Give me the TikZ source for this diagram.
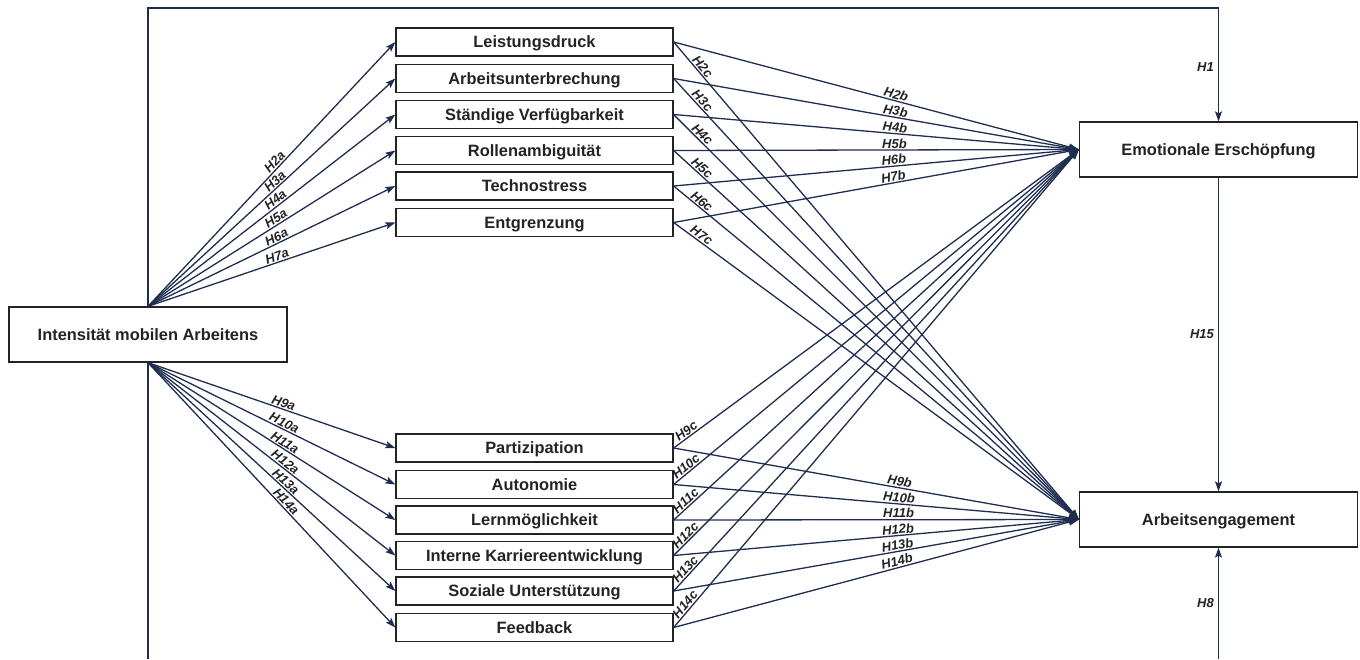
\documentclass[tikz,border=0pt]{standalone}
\usepackage{fontspec}
\setmainfont{Liberation Sans}
\usepackage{tikz}
\usetikzlibrary{arrows.meta}
\definecolor{pathblue}{RGB}{31,45,80}
\definecolor{boxgray}{RGB}{35,35,35}
\tikzset{
    varnode/.style={draw=boxgray,line width=1.3pt,fill=white,text=boxgray,inner sep=0pt,align=center,text height=12pt,text depth=1pt,font=\fontsize{16.4}{19}\selectfont\bfseries},
    midnode/.style={varnode,minimum width=277pt,minimum height=28pt},
    endnode/.style={varnode,minimum width=278pt,minimum height=55pt},
    conn/.style={color=pathblue,line width=1.3pt},
    hyp/.style={font=\fontsize{13}{15}\selectfont\bfseries\itshape,text=boxgray,sloped,above,inner sep=1pt},
    vlabel/.style={font=\fontsize{13}{15}\selectfont\bfseries\itshape,text=boxgray,left,inner sep=4pt}
}
\begin{document}
\begin{tikzpicture}[x=1pt,y=-1pt,>={Stealth[length=10pt,width=7pt,inset=2pt]}]
\useasboundingbox (0,0) rectangle (1360,659);

% outer variables
\node[endnode] (int) at (148,334.5) {Intensität mobilen Arbeitens};
\node[endnode] (emo) at (1218.5,149.5) {Emotionale Erschöpfung};
\node[endnode] (engage) at (1218.5,519.5) {Arbeitsengagement};

% demands
\node[midnode] (leist) at (534.5,42) {Leistungsdruck};
\node[midnode] (unterbr) at (534.5,78.5) {Arbeitsunterbrechung};
\node[midnode] (verfueg) at (534.5,114.5) {Ständige Verfügbarkeit};
\node[midnode] (rollen) at (534.5,150.5) {Rollenambiguität};
\node[midnode] (techno) at (534.5,186) {Technostress};
\node[midnode] (entgr) at (534.5,222.5) {Entgrenzung};

% resources
\node[midnode] (partiz) at (534.5,448) {Partizipation};
\node[midnode] (auton) at (534.5,484.5) {Autonomie};
\node[midnode] (lernm) at (534.5,520) {Lernmöglichkeit};
\node[midnode] (karriere) at (534.5,555.5) {Interne Karriereentwicklung};
\node[midnode] (sozial) at (534.5,591) {Soziale Unterstützung};
\node[midnode] (feedb) at (534.5,627.5) {Feedback};

\coordinate (topbend) at (700,8);
\coordinate (botleft) at (148,659);
\coordinate (botright) at (1218.5,659);

\path[conn,->]
(int.north) edge node[hyp,pos=0.53] {H2a} (leist.west)
            edge node[hyp,pos=0.53] {H3a} (unterbr.west)
            edge node[hyp,pos=0.53] {H4a} (verfueg.west)
            edge node[hyp,pos=0.53] {H5a} (rollen.west)
            edge node[hyp,pos=0.53] {H6a} (techno.west)
            edge node[hyp,pos=0.53] {H7a} (entgr.west)
(int.south) edge node[hyp,pos=0.54] {H9a} (partiz.west)
            edge node[hyp,pos=0.54] {H10a} (auton.west)
            edge node[hyp,pos=0.54] {H11a} (lernm.west)
            edge node[hyp,pos=0.54] {H12a} (karriere.west)
            edge node[hyp,pos=0.54] {H13a} (sozial.west)
            edge node[hyp,pos=0.54] {H14a} (feedb.west);

\path[conn,->]
(leist.east)    edge node[hyp,pos=0.545] {H2b} (emo.west)
                edge node[hyp,pos=0.06] {H2c} (engage.west)
(unterbr.east)  edge node[hyp,pos=0.545] {H3b} (emo.west)
                edge node[hyp,pos=0.06] {H3c} (engage.west)
(verfueg.east)  edge node[hyp,pos=0.545] {H4b} (emo.west)
                edge node[hyp,pos=0.06] {H4c} (engage.west)
(rollen.east)   edge node[hyp,pos=0.545] {H5b} (emo.west)
                edge node[hyp,pos=0.06] {H5c} (engage.west)
(techno.east)   edge node[hyp,pos=0.545] {H6b} (emo.west)
                edge node[hyp,pos=0.06] {H6c} (engage.west)
(entgr.east)    edge node[hyp,pos=0.545] {H7b} (emo.west)
                edge node[hyp,pos=0.06] {H7c} (engage.west);

\path[conn,->]
(partiz.east)   edge node[hyp,pos=0.555] {H9b} (engage.west)
                edge node[hyp,pos=0.04] {H9c} (emo.west)
(auton.east)    edge node[hyp,pos=0.555] {H10b} (engage.west)
                edge node[hyp,pos=0.04] {H10c} (emo.west)
(lernm.east)    edge node[hyp,pos=0.555] {H11b} (engage.west)
                edge node[hyp,pos=0.04] {H11c} (emo.west)
(karriere.east) edge node[hyp,pos=0.555] {H12b} (engage.west)
                edge node[hyp,pos=0.04] {H12c} (emo.west)
(sozial.east)   edge node[hyp,pos=0.555] {H13b} (engage.west)
                edge node[hyp,pos=0.04] {H13c} (emo.west)
(feedb.east)    edge node[hyp,pos=0.555] {H14b} (engage.west)
                edge node[hyp,pos=0.04] {H14c} (emo.west);

% direct paths
\draw[conn,->] (int.north) |- (topbend) -| node[vlabel,pos=0.76] {H1} (emo.north);
\draw[conn,->] (emo.south) -- node[vlabel] {H15} (engage.north);
\draw[conn] (int.south) -- (botleft);
\draw[conn,->] (botright) -- node[vlabel] {H8} (engage.south);

\end{tikzpicture}
\end{document}
